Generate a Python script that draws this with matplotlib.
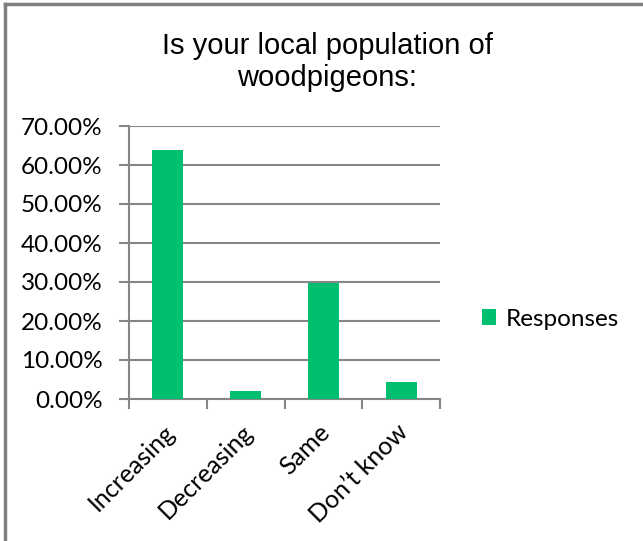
import matplotlib
matplotlib.use('Agg')
import matplotlib.pyplot as plt
import matplotlib.transforms as mtrans
import numpy as np
from matplotlib.ticker import FuncFormatter

# survey results (share of responses)
categories = ['Increasing', 'Decreasing', 'Same', 'Don\u2019t know']
responses = [0.6383, 0.0213, 0.2979, 0.0426]
yticks = [0.0, 0.1, 0.2, 0.3, 0.4, 0.5, 0.6, 0.7]

grey = '#868686'
green = '#00BF6F'

fig = plt.figure(figsize=(6.43, 5.41), dpi=100)
ax = fig.add_axes([129/643, 1 - 399/541, (440 - 129)/643, (399 - 126)/541])

x = np.arange(len(categories))
bars = ax.bar(x, responses, width=0.4, color=green, label='Responses', zorder=3)

ax.set_xlim(-0.5, len(categories) - 0.5)
ax.set_ylim(0, 0.7)
ax.set_yticks(yticks)
ax.yaxis.set_major_formatter(FuncFormatter(lambda v, p: '%.2f%%' % (v * 100)))
ax.grid(axis='y', color=grey, lw=1.5, zorder=0)

ax.set_xticks(x)
ax.set_xticks(np.arange(len(categories) + 1) - 0.5, minor=True)
ax.set_xticklabels(categories, rotation=45, ha='right', rotation_mode='anchor',
                   family='Lato', fontsize=18)
ax.tick_params(axis='x', which='major', length=0, pad=15)
ax.tick_params(axis='x', which='minor', length=7, width=1.5, color=grey)
ax.tick_params(axis='y', length=7, width=1.5, color=grey, labelsize=17.5, pad=12)
for lbl in ax.get_yticklabels():
    lbl.set_family('Lato')
# nudge category labels slightly left
shift = mtrans.ScaledTranslation(-5/100, 0, fig.dpi_scale_trans)
for lbl in ax.get_xticklabels():
    lbl.set_transform(lbl.get_transform() + shift)

for side in ['top', 'right']:
    ax.spines[side].set_visible(False)
for side in ['left', 'bottom']:
    ax.spines[side].set_color(grey)
    ax.spines[side].set_linewidth(1.5)

fig.text(327/643, 1 - 62/541, 'Is your local population of\nwoodpigeons:',
         ha='center', va='center', family='Liberation Sans', fontsize=21,
         linespacing=1.2)

leg = fig.legend(handles=[bars], labels=['Responses'], loc='center left',
                 bbox_to_anchor=(460/643, 1 - 319/541), frameon=False,
                 prop={'family': 'Lato', 'size': 17.5},
                 handlelength=0.6, handleheight=0.6, handletextpad=0.4)

# chart frame
fig.add_artist(plt.Line2D([5/643, 5/643], [0, 1 - 4/541], color='#7f7f7f', lw=2.5,
                          transform=fig.transFigure))
fig.add_artist(plt.Line2D([5/643, 1], [1 - 4/541, 1 - 4/541], color='#7f7f7f', lw=2.5,
                          transform=fig.transFigure))

fig.savefig('out.png', dpi=100)
